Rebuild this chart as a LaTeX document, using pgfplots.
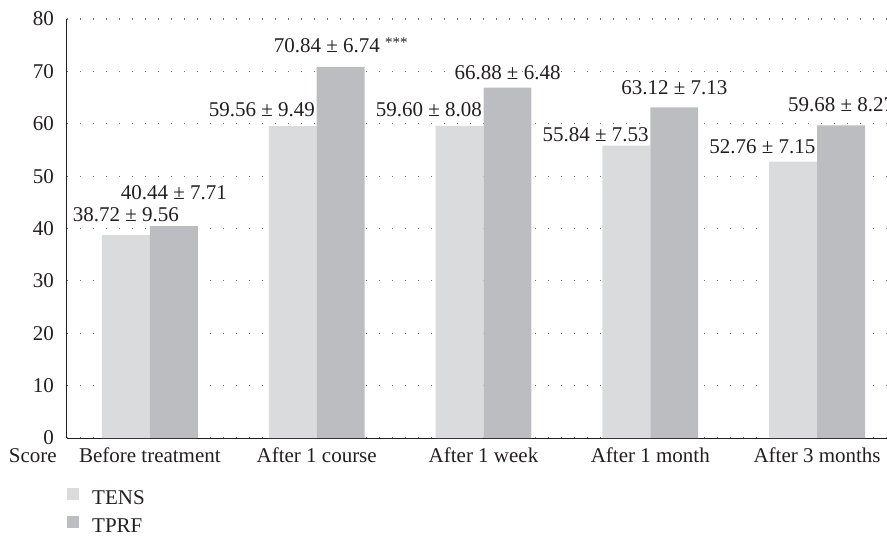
\documentclass[border=0pt]{standalone}
\usepackage{fontspec}
\setmainfont{Liberation Serif}
\usepackage{pgfplots}
\pgfplotsset{compat=1.18}
\definecolor{tens}{RGB}{218,219,221}
\definecolor{tprf}{RGB}{188,189,193}
\definecolor{txt}{RGB}{35,31,32}
\newcommand{\fs}{\fontsize{21}{25}\selectfont}
\begin{document}
\fs
\begin{tikzpicture}
\begin{axis}[
  scale only axis, width=833pt, height=419pt,
  at={(0,0)}, anchor=south west,
  xmin=-0.497, xmax=4.497, ymin=0, ymax=80,
  axis x line*=bottom, axis y line*=left,
  axis line style={line width=1pt, txt},
  ybar=0pt, bar width=0.2874,
  xtick={0,1,2,3,4},
  xticklabels={Before treatment, After 1 course, After 1 week, After 1 month, After 3 months},
  ytick={0,10,...,80},
  major tick length=0pt,
  ymajorgrids,
  grid style={line width=1.2pt, dash pattern=on 1.2pt off 11.8pt, black!55},
  tick label style={font=\fs, text=txt},
  xticklabel style={anchor=base, yshift=-24.5pt},
  yticklabel style={anchor=east, xshift=-6pt},
  /pgf/number format/assume math mode=true,
  legend style={draw=none, fill=none, at={(0,0)}, anchor=north west, yshift=-50pt,
    inner sep=0pt, row sep=7pt, column sep=0pt,
    nodes={inner sep=0pt, text height=15pt, text depth=4pt, font=\fs, text=txt}},
  legend cell align=left,
  clip=false,
]
\addplot[fill=tens, draw=none, legend image code/.code={\fill[tens] (0pt,-1pt) rectangle (12pt,11pt); \path (25pt,0pt);}] coordinates {(0,38.72) (1,59.56) (2,59.60) (3,55.84) (4,52.76)};
\addplot[fill=tprf, draw=none, legend image code/.code={\fill[tprf] (0pt,-1pt) rectangle (12pt,11pt); \path (25pt,0pt);}] coordinates {(0,40.44) (1,70.84) (2,66.88) (3,63.12) (4,59.68)};
\legend{TENS, TPRF}
\begin{scope}[every node/.style={inner sep=1.5pt, text=txt, font=\fs}]
\node at (axis cs:-0.144,42.6) {38.72 ± 9.56};
\node at (axis cs:0.144,46.8) {40.44 ± 7.71};
\node[anchor=east] at (axis cs:1,62.6) {59.56 ± 9.49};
\node at (axis cs:1.144,75.0) {70.84 ± 6.74 \raisebox{0.45ex}{\fontsize{15}{15}\selectfont ***}};
\node[anchor=east] at (axis cs:2,62.6) {59.60 ± 8.08};
\node at (axis cs:2.144,69.7) {66.88 ± 6.48};
\node[anchor=east] at (axis cs:3,57.85) {55.84 ± 7.53};
\node at (axis cs:3.144,66.8) {63.12 ± 7.13};
\node[anchor=east] at (axis cs:4,55.6) {52.76 ± 7.15};
\node at (axis cs:4.144,63.6) {59.68 ± 8.27};
\end{scope}
\node[anchor=base east, inner sep=0pt, text=txt, font=\fs] at (axis description cs:0,0) [xshift=-10pt, yshift=-24.5pt] {Score};
\end{axis}
\pgfresetboundingbox
\useasboundingbox (-67pt,-101pt) rectangle (820pt,438pt);
\end{tikzpicture}
\end{document}
